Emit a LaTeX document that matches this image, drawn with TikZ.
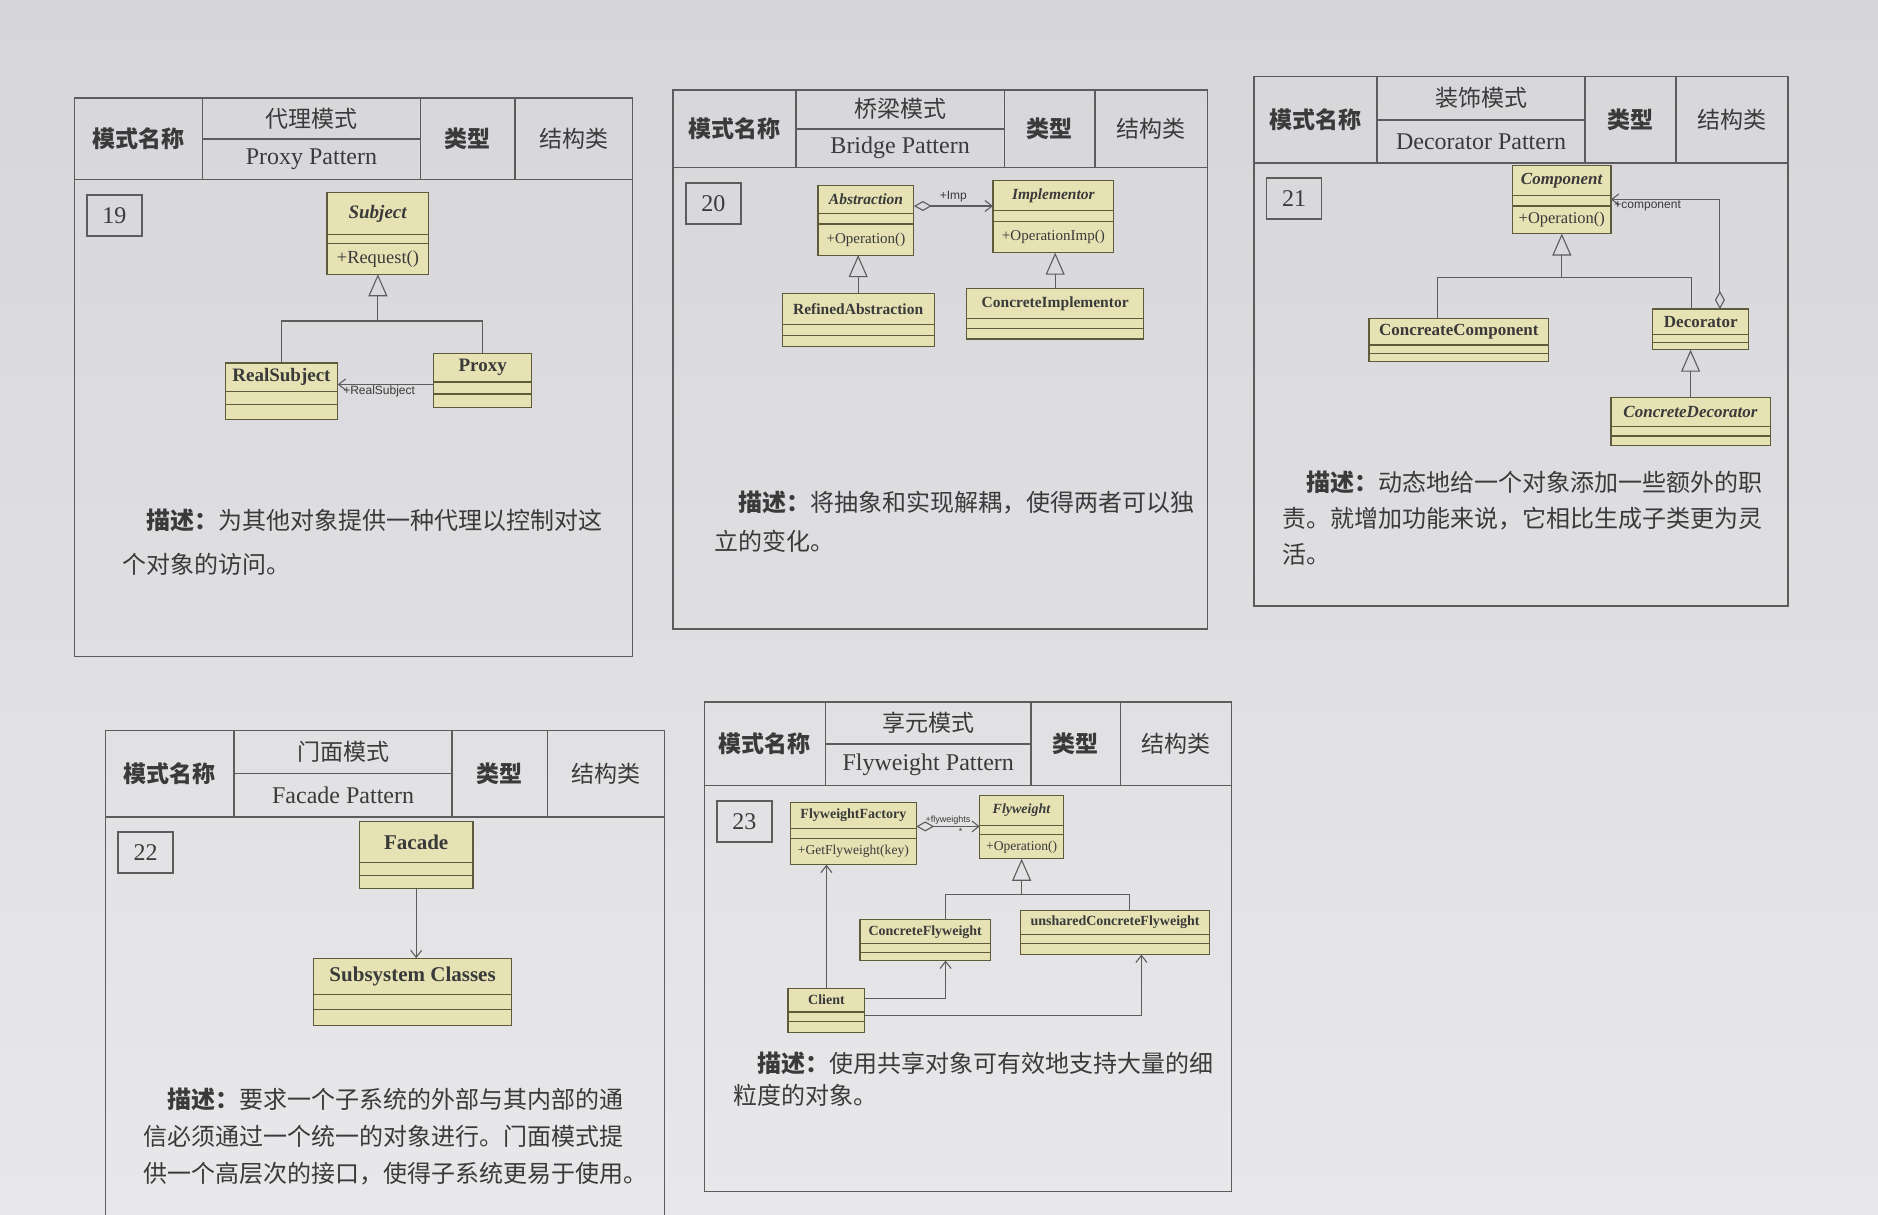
\documentclass[tikz,border=0pt]{standalone}
\usepackage{fontspec}
\setmainfont{Liberation Serif}
\newfontfamily\cjk{Noto Sans CJK SC}
\newfontfamily\labfont{Liberation Sans}
\usetikzlibrary{arrows.meta, calc, positioning}
\definecolor{paper}{HTML}{D6D6DA}
\definecolor{paperlow}{HTML}{E8E8EA}
\definecolor{cgrey}{HTML}{5C5C5C}
\definecolor{cink}{HTML}{3A3A3A}
\definecolor{cfill}{HTML}{E6E2B4}
\definecolor{cedge}{HTML}{5E5B3C}
\newcommand{\pxu}{1.1977pt}
\tikzset{
  clssize/.code={\def\clsfs{#1}\pgfmathsetmacro\clsopfs{0.97*#1}},
  clssize=16,
  cardline/.style={draw=cgrey, line width=1.5pt},
  keytxt/.style={font=\cjk\bfseries\fontsize{23}{23}\selectfont, text=cink},
  nametxt/.style={font=\cjk\fontsize{23}{23}\selectfont, text=cink},
  entxt/.style={font=\fontsize{24}{24}\selectfont, text=cink},
  numbox/.style={draw=cgrey, line width=1.5pt, minimum width=55pt, minimum height=41pt, font=\fontsize{24}{24}\selectfont, text=cink},
  cls/.style={draw=cedge, fill=cfill, line width=1.2pt, inner sep=0pt, outer sep=0pt},
  clsline/.style={draw=cedge, line width=1.2pt},
  clstitle/.style={font=\bfseries\fontsize{\clsfs}{\clsfs}\selectfont, text=cink, inner sep=0pt},
  clsop/.style={font=\fontsize{\clsopfs}{\clsopfs}\selectfont, text=cink, inner sep=0pt},
  inherit/.style={draw=cgrey, line width=1.1pt, -{Triangle[open, length=22pt, width=19pt]}},
  assoc/.style={draw=cgrey, line width=1.1pt, -{Straight Barb[length=7pt, width=11pt]}},
  aggr/.style={draw=cgrey, line width=1.1pt, {Diamond[open, length=18pt, width=10pt]}-{Straight Barb[length=7pt, width=11pt]}},
  lab/.style={font=\labfont\fontsize{12}{12}\selectfont, text=cink, inner sep=1pt},
  desc/.style={font=\cjk\fontsize{24}{#1}\selectfont, text=cink, align=left, anchor=north west, inner sep=0pt},
  desc/.default=38,
}
% card: id, x, y, width, height, header height, number, chinese name, english name
\newcommand{\patterncard}[9]{
  \draw[cardline] (#2,#3) rectangle ++(#4,#5);
  \draw[cardline] (#2,{#3+#6}) -- ++(#4,0);
  \foreach \c in {0.23,0.62,0.79}
    { \draw[cardline] ({#2+\c*#4},#3) -- ++(0,#6); }
  \draw[cardline] ({#2+0.23*#4},{#3+#6/2}) -- ({#2+0.62*#4},{#3+#6/2});
  \node[keytxt] (#1-key) at ({#2+0.115*#4},{#3+#6/2}) {模式名称};
  \node[nametxt] (#1-cn) at ({#2+0.425*#4},{#3+#6/4}) {#8};
  \node[entxt] (#1-en) at ({#2+0.425*#4},{#3+0.75*#6}) {#9};
  \node[keytxt] (#1-type) at ({#2+0.705*#4},{#3+#6/2}) {类型};
  \node[nametxt] (#1-kind) at ({#2+0.895*#4},{#3+#6/2}) {结构类};
  \node[numbox, anchor=north west] (#1-num) at ({#2+10},{#3+#6+12}) {#7};
}
% uml class: name, x, y, width, height, title height, attribute height, title, operations
\newcommand{\umlcls}[9]{
  \node[cls, minimum width=#4*\pxu, minimum height=#5*\pxu, anchor=north west] (#1) at (#2,#3) {};
  \draw[clsline] ($(#1.north west)+(0,#6)$) -- ++(#4,0);
  \draw[clsline] ($(#1.north west)+(0,{#6+#7})$) -- ++(#4,0);
  \node[clstitle] (#1-t) at ($(#1.north)+(0,{#6/2})$) {#8};
  \node[clsop] (#1-o) at ($(#1.north)+(0,{#6+#7+(#5-#6-#7)/2})$) {#9};
}

\begin{document}
\begin{tikzpicture}[x=\pxu, y=-\pxu]
  \useasboundingbox (0,0) rectangle (1568,1014);
  \shade[top color=paper, bottom color=paperlow] (0,0) rectangle (1568,1014);

  % proxy
  \begin{scope}[clssize=19]
    \patterncard{p}{62}{82}{466}{466}{68}{19}{代理模式}{Proxy Pattern}
    \umlcls{p-subj}{273}{161}{85}{68}{35}{7}{\textit{Subject}}{+Request()}
    \umlcls{p-real}{188}{303}{94}{47}{24}{11}{RealSubject}{}
    \umlcls{p-proxy}{362}{295}{82}{45}{24}{10}{Proxy}{}
    \coordinate (p-join) at ($(p-subj.south)+(0,39)$);
    \draw[inherit] (p-join) -- (p-subj.south);
    \draw[cardline, line width=1.1pt] (p-real.north) |- (p-join) -| (p-proxy.north);
    \draw[assoc] ($(p-proxy.north west)+(0,26)$) coordinate (p-a) -- (p-a -| p-real.east)
      node[lab, anchor=north west, pos=1, xshift=4pt] {+RealSubject};
    \node[desc=44] (p-desc) at (102,425) {\hspace*{1em}\textbf{描述：}为其他对象提供一种代理以控制对这\\个对象的访问。};
  \end{scope}

  % bridge
  \begin{scope}[clssize=15.5]
    \patterncard{b}{562}{75}{446}{450}{65}{20}{桥梁模式}{Bridge Pattern}
    \umlcls{b-abs}{683}{155}{80}{58}{23}{9}{\textit{Abstraction}}{+Operation()}
    \umlcls{b-imp}{829}{151}{101}{60}{25}{9}{\textit{Implementor}}{+OperationImp()}
    \umlcls{b-ref}{653}{245}{127}{44}{26}{9}{RefinedAbstraction}{}
    \umlcls{b-cimp}{807}{241}{148}{42}{25}{8}{ConcreteImplementor}{}
    \draw[aggr] ($(b-abs.north east)+(0,17)$) coordinate (b-a) -- (b-a -| b-imp.west)
      node[lab, above, midway, yshift=2pt] {+Imp};
    \draw[inherit] (b-ref.north) -- (b-ref.north |- b-abs.south);
    \draw[inherit] (b-cimp.north) -- (b-cimp.north |- b-imp.south);
    \node[desc=39] (b-desc) at (596,410) {\hspace*{1em}\textbf{描述：}将抽象和实现解耦，使得两者可以独\\立的变化。};
  \end{scope}

  % decorator
  \begin{scope}[clssize=17]
    \patterncard{d}{1047}{64}{446}{442}{72}{21}{装饰模式}{Decorator Pattern}
    \umlcls{d-comp}{1263}{138}{82}{57}{25}{9}{\textit{Component}}{+Operation()}
    \umlcls{d-cc}{1143}{266}{150}{36}{22}{7}{ConcreateComponent}{}
    \umlcls{d-deco}{1380}{258}{80}{34}{21}{7}{Decorator}{}
    \umlcls{d-cdec}{1345}{332}{133}{40}{24}{8}{\textit{ConcreteDecorator}}{}
    \coordinate (d-join) at ($(d-comp.south)+(0,37)$);
    \draw[inherit] (d-join) -- (d-comp.south);
    \draw[cardline, line width=1.1pt] ([xshift=-18*\pxu]d-cc.north) |- (d-join) -| ([xshift=-8*\pxu]d-deco.north);
    \draw[aggr] ([xshift=16*\pxu]d-deco.north) |- (d-comp.east)
      node[lab, anchor=north west, pos=1, xshift=2pt] {+component};
    \draw[inherit] (d-cdec.north) -- (d-cdec.north |- d-deco.south);
    \node[desc=36] (d-desc) at (1071,393) {\hspace*{1em}\textbf{描述：}动态地给一个对象添加一些额外的职\\责。就增加功能来说，它相比生成子类更为灵\\活。};
  \end{scope}

  % facade
  \begin{scope}[clssize=21]
    \patterncard{g}{88}{610}{467}{430}{72}{22}{门面模式}{Facade Pattern}
    \umlcls{g-fac}{300}{686}{95}{56}{34}{11}{Facade}{}
    \umlcls{g-sub}{262}{800}{165}{56}{30}{13}{Subsystem Classes}{}
    \draw[assoc] (g-fac.south) -- (g-fac.south |- g-sub.north);
    \node[desc=37] (g-desc) at (120,908) {\hspace*{1em}\textbf{描述：}要求一个子系统的外部与其内部的通\\信必须通过一个统一的对象进行。门面模式提\\供一个高层次的接口，使得子系统更易于使用。};
  \end{scope}

  % flyweight
  \begin{scope}[clssize=14, lab/.append style={font=\labfont\fontsize{9}{9}\selectfont}]
    \patterncard{f}{588}{586}{440}{409}{70}{23}{享元模式}{Flyweight Pattern}
    \umlcls{f-fact}{660}{670}{105}{52}{22}{8}{FlyweightFactory}{+GetFlyweight(key)}
    \umlcls{f-fly}{818}{664}{70}{53}{25}{8}{\textit{Flyweight}}{+Operation()}
    \umlcls{f-conc}{718}{768}{109}{34}{20}{7}{ConcreteFlyweight}{}
    \umlcls{f-unsh}{852}{760}{158}{37}{20}{8}{unsharedConcreteFlyweight}{}
    \umlcls{f-client}{658}{825}{64}{37}{20}{8}{Client}{}
    \draw[aggr] ($(f-fact.north east)+(0,20)$) coordinate (f-a) -- (f-a -| f-fly.west)
      node[lab, above, midway, yshift=1pt] {+flyweights}
      node[lab, below, pos=0.7] {*};
    \coordinate (f-join) at ($(f-fly.south)+(0,30)$);
    \draw[inherit] (f-join) -- (f-fly.south);
    \draw[cardline, line width=1.1pt] ([xshift=17*\pxu]f-conc.north) |- (f-join) -| ([xshift=12*\pxu]f-unsh.north);
    \draw[assoc] (f-client.north) -- (f-client.north |- f-fact.south);
    \draw[assoc] ($(f-client.north east)+(0,9)$) -| ([xshift=17*\pxu]f-conc.south);
    \draw[assoc] ($(f-client.north east)+(0,23)$) -| ([xshift=22*\pxu]f-unsh.south);
    \node[desc=32] (f-desc) at (612,878) {\hspace*{1em}\textbf{描述：}使用共享对象可有效地支持大量的细\\粒度的对象。};
  \end{scope}
\end{tikzpicture}
\end{document}
